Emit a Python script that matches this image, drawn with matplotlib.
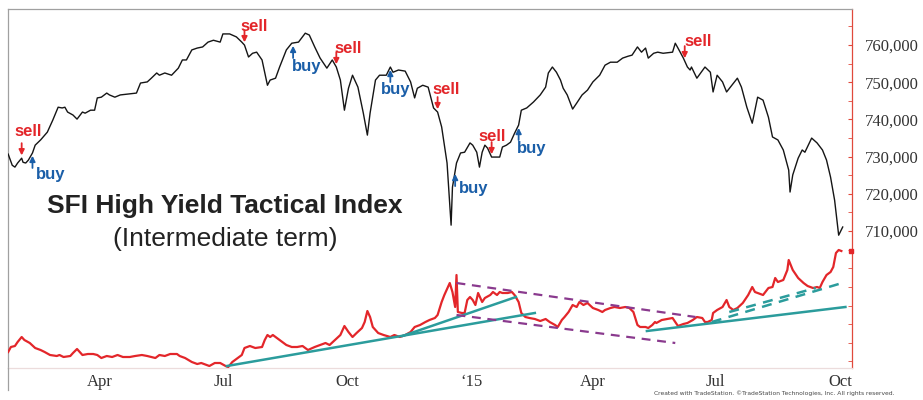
import numpy as np
import matplotlib
matplotlib.use("Agg")
import matplotlib.pyplot as plt
from matplotlib.lines import Line2D
from matplotlib.ticker import FuncFormatter, MultipleLocator

START = np.datetime64("2014-01-01")

# SFI High Yield Tactical Index: days since 1 Jan 2014, value in thousands
index_day = [22, 25, 27, 29, 32, 33, 35, 37, 40, 42, 46, 51, 55, 59, 62, 64, 66, 70, 73, 77,
             79, 83, 86, 88, 91, 95, 97, 101, 105, 110, 117, 120, 125, 128, 132, 134, 138, 143, 148, 151,
             154, 158, 162, 166, 170, 174, 179, 181, 186, 191, 195, 197, 200, 203, 206, 210, 214, 216, 220, 223,
             228, 232, 237, 242, 245, 249, 253, 258, 262, 265, 268, 271, 274, 277, 281, 285, 288, 290, 294, 297,
             302, 305, 307, 311, 316, 320, 323, 325, 329, 333, 337, 340, 343, 347, 350, 351, 354, 357, 360, 364,
             366, 369, 371, 373, 375, 377, 380, 386, 388, 391, 394, 397, 400, 402, 406, 411, 416, 420, 422, 425,
             428, 431, 433, 436, 438, 440, 443, 447, 451, 455, 460, 464, 468, 473, 477, 481, 484, 486, 488, 491,
             494, 496, 500, 503, 507, 514, 516, 518, 522, 525, 527, 528, 532, 538, 542, 544, 547, 551, 554, 562,
             565, 569, 573, 575, 577, 581, 585, 588, 592, 596, 600, 601, 603, 607, 610, 612, 617, 621, 625, 628,
             631, 634, 637, 640]
index_k = [730.7, 727.7, 727.2, 728.3, 729.6, 728.5, 728.3, 729.1, 731.0, 733.1, 734.5, 736.6, 739.8, 743.3, 743.1, 743.3, 742.0, 741.2, 740.1, 742.0,
           741.7, 742.5, 742.5, 745.8, 746.0, 747.1, 746.6, 746.0, 746.6, 746.8, 747.1, 749.8, 750.1, 751.1, 752.5, 751.9, 752.5, 751.9, 753.8, 756.0,
           756.0, 758.7, 759.2, 759.5, 760.8, 761.3, 760.8, 763.0, 763.0, 762.2, 760.8, 760.0, 756.8, 757.8, 758.1, 756.0, 749.2, 750.6, 751.1, 754.1,
           758.7, 760.5, 760.8, 763.2, 762.7, 759.5, 756.5, 753.8, 756.0, 754.1, 750.6, 742.5, 748.4, 751.9, 748.7, 741.7, 735.8, 741.7, 750.6, 751.9,
           751.9, 754.1, 752.7, 753.3, 753.0, 750.1, 745.8, 748.4, 749.2, 748.7, 743.1, 742.0, 738.0, 728.3, 711.6, 721.8, 728.3, 731.0, 731.2, 733.7,
           733.1, 731.2, 727.2, 731.2, 733.1, 732.3, 729.9, 729.9, 732.6, 733.1, 733.9, 736.3, 738.5, 742.5, 743.1, 744.7, 746.6, 748.7, 752.5, 754.1,
           752.7, 750.6, 748.4, 746.6, 744.7, 742.8, 744.4, 746.6, 747.9, 750.1, 751.9, 754.6, 755.4, 755.4, 756.5, 757.0, 757.3, 758.4, 759.5, 758.1,
           759.2, 756.5, 757.8, 758.1, 757.8, 758.1, 760.5, 759.2, 756.5, 754.1, 753.3, 754.1, 751.1, 754.1, 752.7, 747.4, 751.9, 750.1, 747.4, 751.1,
           748.7, 743.3, 739.0, 742.5, 746.0, 745.2, 740.6, 735.3, 734.5, 731.8, 726.4, 720.5, 725.1, 729.6, 731.8, 731.2, 735.0, 733.7, 731.8, 729.1,
           724.5, 718.3, 708.9, 711.1]

# intermediate-term oscillator (no scale shown)
osc_day = [22, 24, 27, 29, 32, 34, 38, 42, 46, 49, 53, 58, 60, 63, 68, 70, 73, 75, 77, 81,
           85, 88, 91, 95, 99, 103, 105, 107, 112, 116, 121, 125, 128, 131, 134, 138, 142, 147, 149, 153,
           158, 162, 165, 169, 171, 175, 179, 183, 185, 188, 192, 195, 197, 201, 205, 210, 212, 214, 216, 218,
           221, 225, 228, 232, 236, 240, 242, 244, 249, 253, 257, 260, 264, 268, 271, 274, 277, 280, 284, 286,
           288, 290, 292, 296, 300, 305, 308, 312, 316, 320, 323, 327, 331, 334, 338, 340, 343, 345, 349, 351,
           353, 354, 355, 358, 360, 362, 364, 366, 368, 370, 373, 375, 379, 381, 384, 386, 388, 392, 395, 397,
           400, 402, 405, 408, 412, 416, 420, 423, 427, 429, 432, 434, 437, 440, 443, 445, 448, 451, 455, 459,
           462, 464, 468, 471, 475, 479, 482, 485, 488, 490, 494, 496, 499, 501, 502, 506, 510, 514, 516, 518,
           522, 525, 529, 532, 536, 538, 540, 543, 544, 547, 551, 554, 556, 559, 562, 566, 570, 573, 575, 577,
           581, 585, 588, 590, 592, 596, 599, 600, 603, 607, 611, 614, 618, 621, 623, 625, 628, 631, 633, 635,
           637, 639]
osc_val = [16, 21, 22, 26, 31, 28, 25, 20, 18, 16, 13, 12, 13, 11, 12, 15, 19, 16, 13, 14,
           14, 13, 10, 12, 11, 13, 12, 11, 11, 12, 13, 12, 11, 10, 13, 12, 14, 14, 12, 10,
           6, 4, 5, 3, 2, 5, 5, 2, 1, 6, 10, 13, 20, 22, 20, 21, 28, 33, 31, 33,
           30, 26, 23, 21, 21, 22, 20, 18, 21, 23, 25, 23, 28, 33, 42, 36, 31, 35, 40, 46,
           57, 51, 41, 35, 33, 31, 33, 31, 33, 36, 41, 43, 46, 48, 50, 53, 66, 73, 85, 76,
           61, 93, 56, 55, 55, 68, 71, 68, 63, 75, 66, 70, 73, 76, 73, 76, 75, 75, 76, 73,
           66, 55, 51, 50, 49, 47, 49, 46, 43, 41, 48, 51, 56, 63, 61, 66, 63, 65, 60, 58,
           56, 58, 60, 61, 60, 61, 60, 56, 43, 41, 41, 40, 43, 46, 45, 48, 49, 50, 46, 42,
           44, 45, 48, 51, 50, 46, 46, 48, 55, 58, 61, 68, 61, 58, 60, 65, 73, 81, 76, 75,
           73, 80, 81, 90, 86, 88, 98, 108, 98, 90, 85, 82, 80, 81, 80, 86, 93, 96, 101, 115,
           118, 117]

signal_kind = ["sell", "buy", "sell", "buy", "sell", "buy", "sell", "buy", "sell", "buy", "sell"]
signal_day = [32, 40, 197, 233, 265, 305, 340, 353, 380, 400, 523]
# label offset from the arrow tip, pixels
signal_offset = [(6, 27), (18, -22), (10, 19), (14, -23), (12, 19), (5, -22),
                 (9, 23), (19, -17), (1, 21), (13, -23), (13, 20)]

# trend lines drawn on the oscillator: (day0, val0, day1, val1)
teal_solid = [(184, 2, 412, 55), (314, 32, 398, 71), (495, 37, 642, 61)]
teal_dashed = [(543, 46, 642, 86), (556, 56, 620, 80)]
purple_dashed = [(354, 85, 531, 51), (354, 53, 516, 25)]

y_ticks = [710000, 720000, 730000, 740000, 750000, 760000]
x_tick_dates = ["2014-04-01", "2014-07-01", "2014-10-01", "2015-01-01",
                "2015-04-01", "2015-07-01", "2015-10-01"]
x_tick_labels = ["Apr", "Jul", "Oct", "\u201815", "Apr", "Jul", "Oct"]

RED = "#e3262a"
BLUE = "#1a5ea8"
TEAL = "#2b9c9c"
PURPLE = "#8a3a8e"
SPINE_RED = "#e0493c"


def to_date(d):
    return START + (np.asarray(d, dtype=float) * 24).astype("timedelta64[h]")


fig = plt.figure(figsize=(9.23, 4.0), dpi=100)
ax = fig.add_axes([8 / 923, 32 / 400, 844 / 923, 359 / 400])
ax2 = ax.twinx()

index_vals = np.array(index_k) * 1000
ax.plot(to_date(index_day), index_vals, color="#151515", lw=1.0, zorder=3)
ax2.plot(to_date(osc_day), osc_val, color=RED, lw=1.6, zorder=3)

for d0, v0, d1, v1 in teal_solid:
    ax2.plot(to_date([d0, d1]), [v0, v1], color=TEAL, lw=1.8, zorder=4)
for d0, v0, d1, v1 in teal_dashed:
    ax2.plot(to_date([d0, d1]), [v0, v1], color=TEAL, lw=1.8, ls=(0, (4, 3)), zorder=4)
for d0, v0, d1, v1 in purple_dashed:
    ax2.plot(to_date([d0, d1]), [v0, v1], color=PURPLE, lw=1.6, ls=(0, (4, 3)), zorder=4)

# last value marker on the right edge
ax2.plot(to_date([646.5]), [osc_val[-1]], marker="s", ms=2.5, color=RED, clip_on=False, zorder=5)

# buy / sell signals
for kind, day, (dx, dy) in zip(signal_kind, signal_day, signal_offset):
    tip = np.interp(day, index_day, index_vals)
    col = RED if kind == "sell" else BLUE
    up = 15 if kind == "sell" else -15
    ax.annotate("", xy=(to_date(day), tip), xytext=(0, up), textcoords="offset pixels",
                arrowprops=dict(arrowstyle="-|>", color=col, lw=1.3, mutation_scale=8,
                                shrinkA=0, shrinkB=2))
    ax.annotate(kind, xy=(to_date(day), tip), xytext=(dx, dy), textcoords="offset pixels",
                ha="center", va="center", color=col, fontsize=12, fontweight="bold",
                family="Liberation Sans")

ax.set_xlim(to_date(21.9), to_date(646.9))
ax.set_ylim(673200, 769700)
ax2.set_ylim(0, 359)
ax2.set_yticks([])
for s in ax2.spines.values():
    s.set_visible(False)

ax.set_xticks(to_date([(np.datetime64(d) - START).astype(int) for d in x_tick_dates]))
ax.set_xticklabels(x_tick_labels, family="Liberation Serif", fontsize=12, color="#333333")
ax.tick_params(axis="x", length=0, pad=4)

ax.yaxis.tick_right()
ax.set_yticks(y_ticks)
ax.yaxis.set_minor_locator(MultipleLocator(5000))
ax.yaxis.set_major_formatter(FuncFormatter(lambda v, p: f"{int(v):,}"))
ax.tick_params(axis="y", which="both", direction="in", length=3, color=SPINE_RED,
               labelsize=12, pad=9, labelcolor="#333333")
for lab in ax.get_yticklabels():
    lab.set_family("Liberation Serif")

ax.spines["top"].set_color("#a0a0a0")
ax.spines["left"].set_color("#a0a0a0")
ax.spines["bottom"].set_color("#ecdcdc")
ax.spines["right"].set_color(SPINE_RED)
for s in ax.spines.values():
    s.set_linewidth(0.9)
fig.add_artist(Line2D([8 / 923, 8 / 923], [10 / 400, 32 / 400], color="#a0a0a0", lw=0.9))

fig.text(225 / 923, 1 - 206 / 400, "SFI High Yield Tactical Index", ha="center", va="center",
         fontsize=19, fontweight="bold", color="#222222", family="Liberation Sans")
fig.text(225 / 923, 1 - 239 / 400, "(Intermediate term)", ha="center", va="center",
         fontsize=19, color="#222222", family="Liberation Sans")
fig.text(895 / 923, 4 / 400, "Created with TradeStation. \u00a9TradeStation Technologies, Inc. All rights reserved.",
         ha="right", va="bottom", fontsize=4.3, color="#444444", family="Liberation Sans Narrow")

fig.savefig("out.png", dpi=100)
